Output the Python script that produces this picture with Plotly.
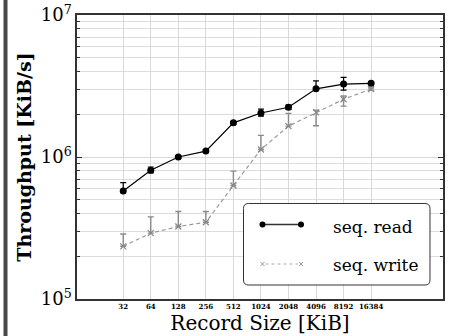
import plotly.graph_objects as go

# ---- data ----
record_sizes = [32, 64, 128, 256, 512, 1024, 2048, 4096, 8192, 16384]
size_labels = ["32", "64", "128", "256", "512", "1024", "2048", "4096", "8192", "16384"]

read_vals = [5.77e5, 8.08e5, 1.00e6, 1.10e6, 1.74e6, 2.04e6, 2.24e6, 3.02e6, 3.26e6, 3.30e6]
read_err_plus = [0.84e5, 0.42e5, 0.2e5, 0.2e5, 0.4e5, 0.13e6, 0.08e6, 0.42e6, 0.38e6, 0.05e6]
read_err_minus = [0.0, 0.36e5, 0.2e5, 0.2e5, 0.4e5, 0.1e6, 0.08e6, 0.05e6, 0.30e6, 0.05e6]

write_vals = [2.35e5, 2.91e5, 3.24e5, 3.47e5, 6.30e5, 1.13e6, 1.65e6, 2.06e6, 2.55e6, 3.01e6]
write_err_plus = [0.52e5, 0.88e5, 0.89e5, 0.66e5, 1.65e5, 0.29e6, 0.38e6, 0.08e6, 0.14e6, 0.05e6]
write_err_minus = [0.0, 0.0, 0.0, 0.0, 0.0, 0.0, 0.0, 0.40e6, 0.27e6, 0.05e6]

y_major_vals = [1e5, 1e6, 1e7]
y_major_text = ["10<sup>5</sup>", "10<sup>6</sup>", "10<sup>7</sup>"]
y_minor_vals = [m * 10 ** e for e in (5, 6) for m in range(2, 10)]

FONT = "DejaVu Serif"
L, T, W, H = 77, 15, 366, 284
FIG_W, FIG_H = 451, 336


def px(x):
    return (x - L) / W


def py(y):
    return (T + H - y) / H


fig = go.Figure()

fig.add_trace(go.Scatter(
    x=record_sizes, y=write_vals, mode="lines+markers", name="seq. write",
    line=dict(color="#999999", width=1.2, dash="4px,3px"),
    marker=dict(symbol="x-thin", size=6, line=dict(color="#888888", width=1.2)),
    error_y=dict(type="data", symmetric=False, array=write_err_plus,
                 arrayminus=write_err_minus, color="#8a8a8a", thickness=1.4, width=3),
))
fig.add_trace(go.Scatter(
    x=record_sizes, y=read_vals, mode="lines+markers", name="seq. read",
    line=dict(color="black", width=1.2),
    marker=dict(symbol="circle", size=7, color="black"),
    error_y=dict(type="data", symmetric=False, array=read_err_plus,
                 arrayminus=read_err_minus, color="black", thickness=1.2, width=3),
))

shapes = []
# left dark bar
shapes.append(dict(type="rect", xref="paper", yref="paper", x0=px(3.5), x1=px(7.5),
                   y0=py(FIG_H), y1=py(0), fillcolor="#484848", line=dict(width=0), layer="above"))

# rounded legend box
bx0, bx1, by0, by1, r = 243.5, 430, 203.5, 285, 5
pts = [
    ("M", bx0 + r, by0), ("L", bx1 - r, by0), ("Q", bx1, by0, bx1, by0 + r),
    ("L", bx1, by1 - r), ("Q", bx1, by1, bx1 - r, by1), ("L", bx0 + r, by1),
    ("Q", bx0, by1, bx0, by1 - r), ("L", bx0, by0 + r), ("Q", bx0, by0, bx0 + r, by0),
]
path = ""
for p in pts:
    cmd = p[0]
    coords = p[1:]
    s = []
    for i in range(0, len(coords), 2):
        s.append(f"{px(coords[i]):.5f},{py(coords[i + 1]):.5f}")
    path += cmd + " " + " ".join(s) + " "
path += "Z"
shapes.append(dict(type="path", xref="paper", yref="paper", path=path,
                   fillcolor="white", line=dict(color="#333333", width=1), layer="above"))

# legend samples
ly1, ly2 = 224.5, 264
lx0, lx1 = 262.5, 301
shapes.append(dict(type="line", xref="paper", yref="paper", x0=px(lx0), x1=px(lx1),
                   y0=py(ly1), y1=py(ly1), line=dict(color="#333333", width=1.5), layer="above"))
for cx in (lx0, lx1):
    shapes.append(dict(type="circle", xref="paper", yref="paper", xsizemode="pixel", ysizemode="pixel",
                       xanchor=px(cx), yanchor=py(ly1), x0=-3, x1=3, y0=-3, y1=3,
                       fillcolor="black", line=dict(color="black", width=0), layer="above"))
shapes.append(dict(type="line", xref="paper", yref="paper", x0=px(lx0 + 3), x1=px(lx1 - 3),
                   y0=py(ly2), y1=py(ly2), line=dict(color="#aaaaaa", width=1, dash="3px,3px"), layer="above"))
for cx in (lx0, lx1):
    for d in (1, -1):
        shapes.append(dict(type="line", xref="paper", yref="paper", xsizemode="pixel", ysizemode="pixel",
                           xanchor=px(cx), yanchor=py(ly2), x0=-2, x1=2, y0=-2 * d, y1=2 * d,
                           line=dict(color="#999999", width=1), layer="above"))

annotations = [
    dict(text="seq. read", xref="paper", yref="paper", x=px(331), y=py(227.5),
         xanchor="left", yanchor="middle", showarrow=False, font=dict(family=FONT, size=17, color="black")),
    dict(text="seq. write", xref="paper", yref="paper", x=px(331), y=py(264.5),
         xanchor="left", yanchor="middle", showarrow=False, font=dict(family=FONT, size=17, color="black")),
]

fig.update_layout(
    width=FIG_W, height=FIG_H,
    margin=dict(l=L, r=FIG_W - L - W, t=T, b=FIG_H - T - H, pad=0, autoexpand=False),
    paper_bgcolor="white", plot_bgcolor="white",
    showlegend=False,
    font=dict(family=FONT, color="black"),
    shapes=shapes, annotations=annotations,
)

fig.update_xaxes(
    type="log", range=[1, 5], automargin=False,
    tickvals=record_sizes, ticktext=[f"<b>{s}</b>" for s in size_labels],
    tickfont=dict(family=FONT, size=7, color="black"),
    ticks="", showgrid=True, gridcolor="#d9d9d9", gridwidth=1, zeroline=False,
    showline=True, linecolor="#333333", linewidth=1.5, mirror=True,
    title=dict(text="Record Size [KiB]", font=dict(family=FONT, size=20, color="black"), standoff=2),
)
fig.update_yaxes(
    type="log", range=[5, 7], automargin=False,
    tickvals=y_major_vals, ticktext=y_major_text,
    tickfont=dict(family=FONT, size=18, color="black"),
    ticks="inside", ticklen=5, tickcolor="#333333",
    showgrid=True, gridcolor="#d9d9d9", gridwidth=1, zeroline=False,
    minor=dict(tickvals=y_minor_vals, showgrid=True, gridcolor="#dcdcdc", gridwidth=1,
               ticks="inside", ticklen=3, tickcolor="#333333"),
    showline=True, linecolor="#333333", linewidth=1.5, mirror="ticks",
    title=dict(text="<b>Throughput [KiB/s]</b>", font=dict(family=FONT, size=19, color="black"), standoff=4),
)

fig.write_html("out.html", config={"displayModeBar": False},
               post_script="document.body.style.margin='0';document.body.style.overflow='hidden';")
